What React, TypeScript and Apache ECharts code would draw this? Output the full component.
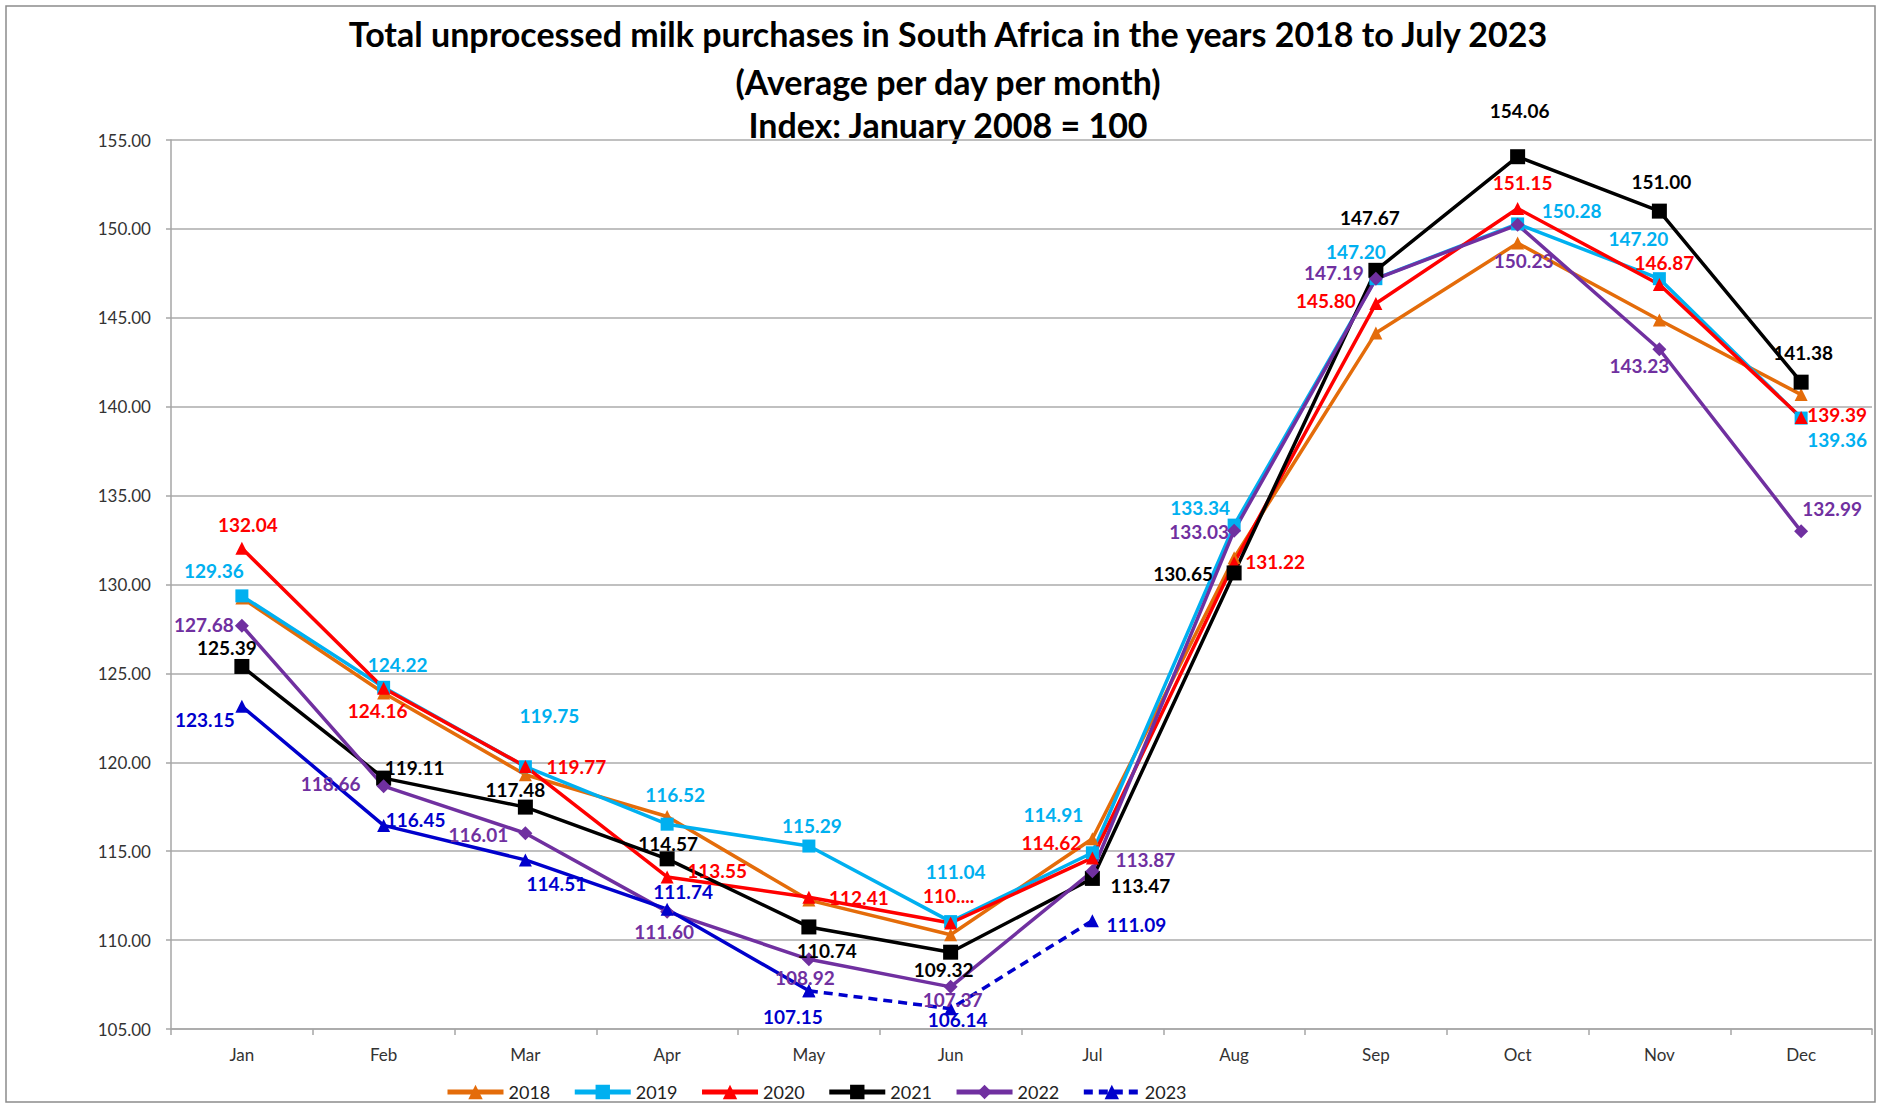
import React, { useEffect, useRef } from "react";
import * as echarts from "echarts";

const months = ["Jan", "Feb", "Mar", "Apr", "May", "Jun", "Jul", "Aug", "Sep", "Oct", "Nov", "Dec"];

const years = ["2018", "2019", "2020", "2021", "2022", "2023"];

const v2018 = [129.24, 123.9, 119.3, 116.95, 112.25, 110.3, 115.7, 131.5, 144.15, 149.2, 144.88, 140.68];
const v2019 = [129.36, 124.22, 119.75, 116.52, 115.29, 111.04, 114.91, 133.34, 147.2, 150.28, 147.2, 139.36];
const v2020 = [132.04, 124.16, 119.77, 113.55, 112.41, 110.96, 114.62, 131.22, 145.8, 151.15, 146.87, 139.39];
const v2021 = [125.39, 119.11, 117.48, 114.57, 110.74, 109.32, 113.47, 130.65, 147.67, 154.06, 151.0, 141.38];
const v2022 = [127.68, 118.66, 116.01, 111.6, 108.92, 107.37, 113.87, 133.03, 147.19, 150.23, 143.23, 132.99];
const v2023 = [123.15, 116.45, 114.51, 111.74, 107.15, 106.14, 111.09];

// label text shown truncated in the original (2020, Jun)
const truncated2020 = { 5: "110...." } as Record<number, string>;

const yTicks = { min: 105, max: 155, interval: 5 };

// label offsets (px, label centre relative to point)
const off2019 = [[-28, -25], [14, -23], [24, -51], [8, -30], [3, -21], [5, -50], [-39, -38], [-34, -18], [-20, -27], [54, -13], [-21, -40], [36, 21]];
const off2020 = [[6, -24], [-6, 22], [51, 0], [50, -6], [50, 0], [-2, -28], [-41, -15], [41, -1], [-50, -3], [5, -26], [5, -22], [36, -3]];
const off2021 = [[-15, -19], [31, -11], [-10, -18], [1, -15], [18, 24], [-7, 17], [48, 7], [-51, 1], [-6, -53], [2, -46], [2, -30], [2, -30]];
const off2022 = [[-38, -1], [-53, -3], [-47, 1], [-3, 20], [-4, 18], [2, 13], [53, -12], [-35, 1], [-42, -6], [6, 36], [-20, 16], [31, -23]];
const off2023 = [[-37, 13], [32, -6], [31, 24], [16, -18], [-16, 26], [7, 11], [44, 4]];

const colors = {
  "2018": "#E46C0A",
  "2019": "#00B0F0",
  "2020": "#FF0000",
  "2021": "#000000",
  "2022": "#7030A0",
  "2023": "#0000CC",
} as Record<string, string>;

const FONT = "Lato";

function mkData(
  vals: (number | null)[],
  offsets: number[][] | null,
  color: string,
  showIdx: (i: number) => boolean,
  overrides: Record<number, string> = {}
) {
  return vals.map((v, i) => {
    if (v == null) return "-";
    const show = !!offsets && showIdx(i);
    return {
      value: v,
      label: show
        ? {
            show: true,
            position: "inside",
            offset: offsets![i],
            formatter: overrides[i] !== undefined ? overrides[i] : v.toFixed(2),
            color,
            fontFamily: FONT,
            fontWeight: "bold",
            fontSize: 19,
          }
        : { show: false },
    };
  });
}

function mkSeries(
  name: string,
  vals: (number | null)[],
  symbol: string,
  symbolSize: number,
  offsets: number[][] | null,
  opts: any = {}
) {
  const color = colors[name.slice(0, 4)];
  return {
    name,
    type: "line",
    data: mkData(vals, offsets, color, opts.showIdx || (() => true), opts.overrides || {}),
    symbol,
    symbolSize,
    showAllSymbol: true,
    connectNulls: false,
    lineStyle: { color, width: 3.5, type: opts.dashed ? [9, 6] : "solid" },
    itemStyle: { color },
    emphasis: { disabled: true },
    z: opts.z || 2,
  };
}

export default function App() {
  const ref = useRef<HTMLDivElement>(null);

  useEffect(() => {
    if (!ref.current) return;
    const chart = echarts.init(ref.current, null, { renderer: "svg" });

    const solid2023 = v2023.map((v, i) => (i <= 4 ? v : null));
    const dashed2023 = months.map((_, i) => (i >= 4 && i < v2023.length ? v2023[i] : null));
    const off2023full = months.map((_, i) => off2023[i] || [0, 0]);

    const series = [
      mkSeries("2018", v2018, "triangle", 13, null),
      mkSeries("2019", v2019, "rect", 13, off2019),
      mkSeries("2020", v2020, "triangle", 13, off2020, { overrides: truncated2020 }),
      mkSeries("2021", v2021, "rect", 15, off2021),
      mkSeries("2022", v2022, "diamond", 14, off2022),
      mkSeries("2023 solid", solid2023, "triangle", 13, off2023full, { showIdx: (i: number) => i <= 4 }),
      mkSeries("2023", dashed2023, "triangle", 13, off2023full, { dashed: true, showIdx: (i: number) => i >= 5 }),
    ];

    const titleLines = [
      "Total unprocessed milk purchases in South Africa in the years 2018 to July 2023",
      "(Average per day per month)",
      "Index: January 2008 = 100",
    ];
    const titleY = [33, 81, 124];

    chart.setOption({
      animation: false,
      backgroundColor: "#ffffff",
      textStyle: { fontFamily: FONT },
      grid: { left: 171, right: 7, top: 140, bottom: 76, containLabel: false },
      legend: {
        data: years,
        left: 440,
        top: 1078,
        itemWidth: 56,
        itemHeight: 18,
        itemGap: 22,
        lineStyle: { width: 5 },
        textStyle: { fontFamily: FONT, fontSize: 18, color: "#222" },
      },
      xAxis: {
        type: "category",
        data: months,
        boundaryGap: true,
        axisLine: { lineStyle: { color: "#A6A6A6", width: 1.5 } },
        axisTick: { show: true, alignWithLabel: false, length: 6, lineStyle: { color: "#A6A6A6", width: 1.5 } },
        axisLabel: { fontFamily: FONT, fontSize: 17, color: "#333", margin: 17 },
        splitLine: { show: false },
      },
      yAxis: {
        type: "value",
        min: yTicks.min,
        max: yTicks.max,
        interval: yTicks.interval,
        axisLine: { show: true, lineStyle: { color: "#A6A6A6", width: 1.5 } },
        axisTick: { show: true, length: 5, lineStyle: { color: "#A6A6A6", width: 1.5 } },
        axisLabel: {
          fontFamily: FONT,
          fontSize: 17,
          color: "#333",
          margin: 20,
          formatter: (v: number) => v.toFixed(2),
        },
        splitLine: { show: true, lineStyle: { color: "#ABABAB", width: 1.5 } },
      },
      graphic: [
        {
          type: "rect",
          silent: true,
          z: -10,
          shape: { x: 6, y: 6, width: 1869, height: 1096 },
          style: { fill: "none", stroke: "#8C8C8C", lineWidth: 1.5 },
        },
        ...titleLines.map((t, i) => ({
          type: "text",
          x: 948,
          y: titleY[i],
          style: {
            text: t,
            fill: "#000",
            font: `bold 34px ${FONT}`,
            fontFamily: FONT,
            fontSize: 34,
            fontWeight: "bold",
            textAlign: "center",
            textVerticalAlign: "middle",
            align: "center",
            verticalAlign: "middle",
          },
        })),
      ],
      series,
    });

    return () => chart.dispose();
  }, []);

  return (
    <div
      ref={ref}
      style={{ position: "fixed", left: 0, top: 0, width: 1879, height: 1105, background: "#fff" }}
    />
  );
}
